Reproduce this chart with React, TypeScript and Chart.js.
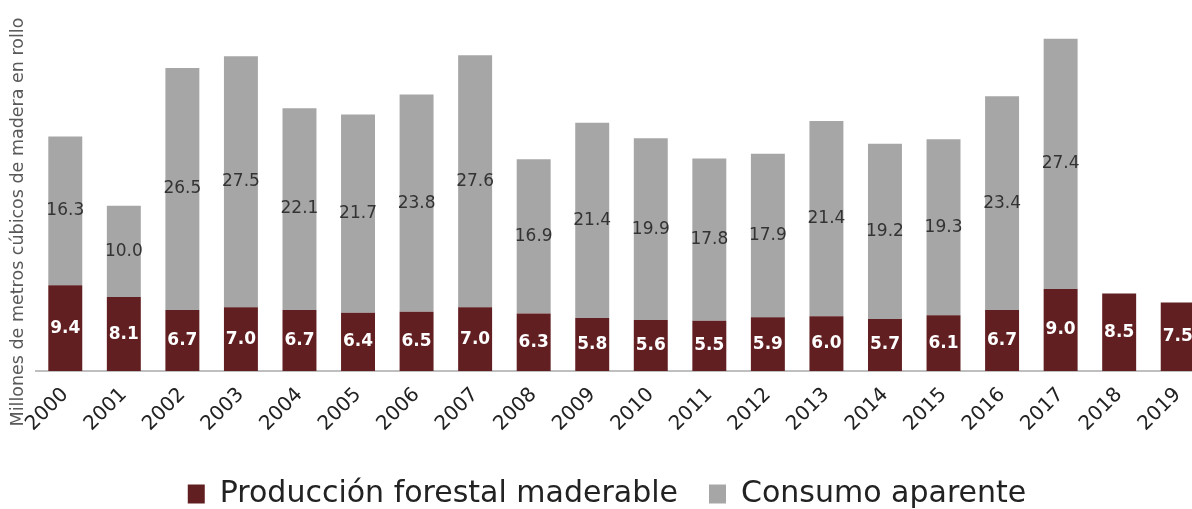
import React, { useEffect, useRef } from "react";
import { Chart, registerables } from "chart.js";

Chart.register(...registerables);

const years = ["2000","2001","2002","2003","2004","2005","2006","2007","2008","2009","2010","2011","2012","2013","2014","2015","2016","2017","2018","2019"];
const produccion = [9.4, 8.1, 6.7, 7.0, 6.7, 6.4, 6.5, 7.0, 6.3, 5.8, 5.6, 5.5, 5.9, 6.0, 5.7, 6.1, 6.7, 9.0, 8.5, 7.5];
const consumo = [16.3, 10.0, 26.5, 27.5, 22.1, 21.7, 23.8, 27.6, 16.9, 21.4, 19.9, 17.8, 17.9, 21.4, 19.2, 19.3, 23.4, 27.4, null, null];
const yTitle = "Millones de metros cúbicos de madera en rollo";

const FONT = "'DejaVu Sans', sans-serif";

const labelPlugin = {
  id: "segLabels",
  afterDatasetsDraw(chart: any) {
    const ctx = chart.ctx;
    chart.data.datasets.forEach((ds: any, di: number) => {
      const meta = chart.getDatasetMeta(di);
      meta.data.forEach((bar: any, i: number) => {
        const v = ds.data[i];
        if (v == null) return;
        const yc = (bar.y + bar.base) / 2;
        ctx.save();
        ctx.textAlign = "center";
        ctx.textBaseline = "middle";
        if (di === 0) {
          ctx.fillStyle = "#ffffff";
          ctx.font = `bold 17px ${FONT}`;
        } else {
          ctx.fillStyle = "#333333";
          ctx.font = `17px ${FONT}`;
        }
        ctx.fillText(v.toFixed(1), bar.x, yc);
        ctx.restore();
      });
    });
    // y axis title
    ctx.save();
    ctx.translate(18, 222);
    ctx.rotate(-Math.PI / 2);
    ctx.textAlign = "center";
    ctx.textBaseline = "middle";
    ctx.fillStyle = "#595959";
    ctx.font = `17.5px ${FONT}`;
    ctx.fillText(yTitle, 0, 0);
    ctx.restore();
  },
};

export default function App() {
  const ref = useRef<HTMLCanvasElement>(null);
  useEffect(() => {
    if (!ref.current) return;
    const chart = new Chart(ref.current, {
      type: "bar",
      data: {
        labels: years,
        datasets: [
          {
            label: "Producción forestal maderable",
            data: produccion,
            backgroundColor: "#611f21",
            barPercentage: 0.58,
            categoryPercentage: 1,
          },
          {
            label: "Consumo aparente",
            data: consumo as any,
            backgroundColor: "#a6a6a6",
            barPercentage: 0.58,
            categoryPercentage: 1,
          },
        ],
      },
      options: {
        responsive: false,
        animation: false,
        layout: { padding: { left: 7, right: 5, top: 6, bottom: 0 } },
        plugins: {
          legend: {
            position: "bottom",
            labels: {
              font: { family: FONT, size: 30 },
              color: "#222222",
              boxWidth: 17,
              boxHeight: 19,
              padding: 31,
            },
          },
          tooltip: { enabled: false },
        },
        scales: {
          x: {
            stacked: true,
            grid: { display: false, drawTicks: false },
            border: { display: true, color: "#bfbfbf", width: 2 },
            ticks: {
              maxRotation: 45,
              minRotation: 45,
              padding: 12,
              color: "#222222",
              font: { family: FONT, size: 20 },
            },
          },
          y: {
            stacked: true,
            min: 0,
            max: 40,
            display: true,
            grid: { display: false, drawTicks: false },
            border: { display: false },
            ticks: { display: false },
            afterFit: (scale: any) => {
              scale.width = 29;
            },
          },
        },
      },
      plugins: [labelPlugin],
    });
    return () => chart.destroy();
  }, []);
  return (
    <div style={{ position: "absolute", left: 0, top: 0, width: 1192, height: 509, overflow: "hidden", background: "#fff" }}>
      <canvas ref={ref} width={1212} height={519} style={{ width: 1212, height: 519, display: "block" }} />
    </div>
  );
}
